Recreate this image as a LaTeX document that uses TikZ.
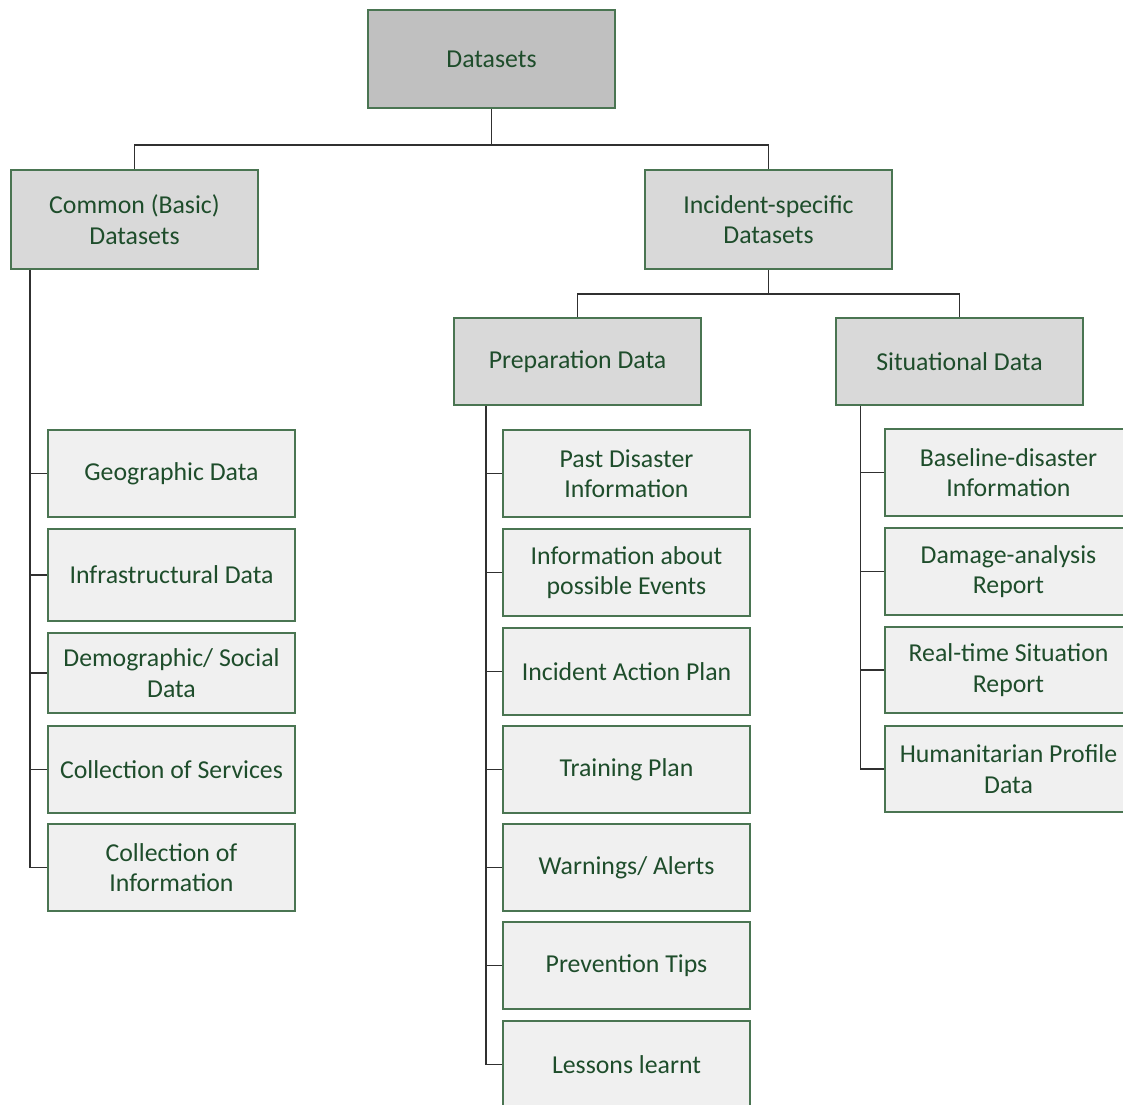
\documentclass[tikz,border=0pt]{standalone}
\usepackage{fontspec}
\setmainfont{Carlito}
\definecolor{boxline}{HTML}{4A7552}
\definecolor{boxtext}{HTML}{1E4D2B}
\definecolor{rootfill}{HTML}{C0C0C0}
\definecolor{midfill}{HTML}{D9D9D9}
\definecolor{leaffill}{HTML}{F0F0F0}
\definecolor{wire}{HTML}{303030}
\tikzset{
  box/.style={draw=boxline, line width=1.5pt, text=boxtext, align=center,
    inner sep=0pt, minimum width=247pt,
    font=\fontsize{25.8}{30.5}\selectfont},
  rootbox/.style={box, fill=rootfill},
  midbox/.style={box, fill=midfill},
  leafbox/.style={box, fill=leaffill},
  wireline/.style={draw=wire, line width=1.4pt},
}
\begin{document}
\begin{tikzpicture}[x=1pt, y=-1pt]
\useasboundingbox (0,0) rectangle (1123,1104);

% upper levels
\node[rootbox, minimum height=98pt] (root) at (491.5,59) {Datasets};
\node[midbox, minimum height=99pt] (common) at (134.5,219.5) {Common (Basic)\\Datasets};
\node[midbox, minimum height=99pt] (incident) at (768.5,219.5) {Incident-specific\\Datasets};
\node[midbox, minimum height=87pt] (prep) at (577.5,361.5) {Preparation Data};
\node[midbox, minimum height=87pt] (sit) at (959.5,361.5) {Situational Data};

% common datasets
\node[leafbox, minimum height=87pt] (geo) at (171.5,473.5) {Geographic Data};
\node[leafbox, minimum height=92pt] (infra) at (171.5,575) {Infrastructural Data};
\node[leafbox, minimum height=80pt] (demo) at (171.5,673) {Demographic/ Social\\Data};
\node[leafbox, minimum height=87pt] (serv) at (171.5,769.5) {Collection of Services};
\node[leafbox, minimum height=87pt] (info) at (171.5,867.5) {Collection of\\Information};

% preparation data
\node[leafbox, minimum height=87pt] (past) at (626.5,473.5) {Past Disaster\\Information};
\node[leafbox, minimum height=87pt] (events) at (626.5,572.5) {Information about\\possible Events};
\node[leafbox, minimum height=87pt] (iap) at (626.5,671.5) {Incident Action Plan};
\node[leafbox, minimum height=87pt] (train) at (626.5,769.5) {Training Plan};
\node[leafbox, minimum height=87pt] (warn) at (626.5,867.5) {Warnings/ Alerts};
\node[leafbox, minimum height=87pt] (tips) at (626.5,965.5) {Prevention Tips};
\node[leafbox, minimum height=87pt] (lessons) at (626.5,1064.5) {Lessons learnt};

% situational data
\node[leafbox, minimum height=87pt] (base) at (1008.5,472.5) {Baseline-disaster\\Information};
\node[leafbox, minimum height=87pt] (damage) at (1008.5,571.5) {Damage-analysis\\Report};
\node[leafbox, minimum height=86pt] (rt) at (1008.5,670) {Real-time Situation\\Report};
\node[leafbox, minimum height=86pt] (hum) at (1008.5,769) {Humanitarian Profile\\Data};

% bus lines and spines
\coordinate (busA) at (0,145);
\coordinate (busB) at (0,294);
\coordinate (spL) at (30,0);
\coordinate (spM) at (486,0);
\coordinate (spR) at (860.5,0);

\draw[wireline] (root.south) -- (root.south |- busA) -| (common.north);
\draw[wireline] (root.south |- busA) -| (incident.north);
\draw[wireline] (incident.south) -- (incident.south |- busB) -| (prep.north);
\draw[wireline] (incident.south |- busB) -| (sit.north);

\draw[wireline] (spL |- common.south) |- (info.west);
\foreach \n in {geo,infra,demo,serv}
  \draw[wireline] (spL |- \n.west) -- (\n.west);

\draw[wireline] (spM |- prep.south) |- (lessons.west);
\foreach \n in {past,events,iap,train,warn,tips}
  \draw[wireline] (spM |- \n.west) -- (\n.west);

\draw[wireline] (spR |- sit.south) |- (hum.west);
\foreach \n in {base,damage,rt}
  \draw[wireline] (spR |- \n.west) -- (\n.west);
\end{tikzpicture}
\end{document}
